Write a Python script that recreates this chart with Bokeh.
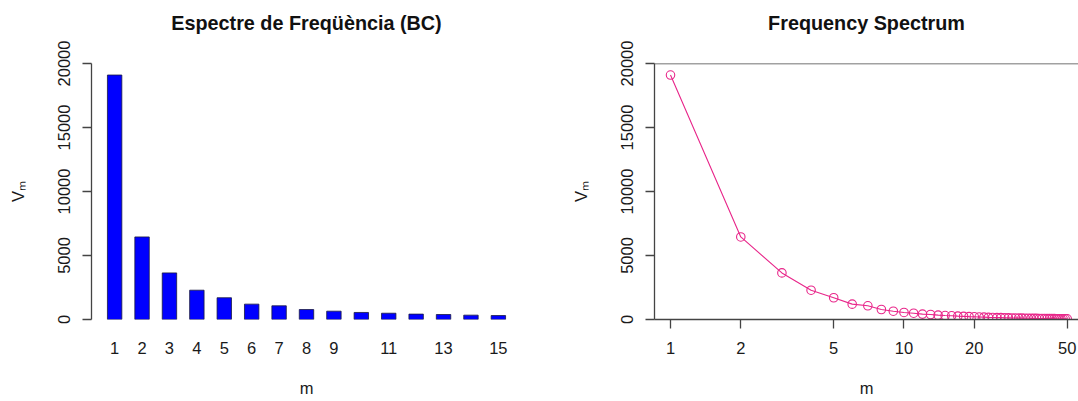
from bokeh.plotting import figure
from bokeh.layouts import row
from bokeh.models import Range1d, FixedTicker, Span, Title
from bokeh.embed import file_html
from bokeh.resources import INLINE

# ---- data ----
m_bc = list(range(1, 16))
v_bc = [19100, 6450, 3640, 2290, 1700, 1200, 1070, 780, 650, 550, 490, 420, 390, 340, 310]
bc_tick_values = [1, 2, 3, 4, 5, 6, 7, 8, 9, 11, 13, 15]
bc_tick_labels = ["1", "2", "3", "4", "5", "6", "7", "8", "9", "11", "13", "15"]

m_spec = list(range(1, 51))
v_spec = v_bc + [290, 262, 248, 226, 212, 193, 182, 168, 161, 149, 143, 134, 129, 119,
                 116, 108, 106, 99, 97, 90, 89, 84, 82, 77, 76, 72, 70, 67, 66, 62,
                 61, 58, 57, 55, 53]
spec_tick_values = [1, 2, 5, 10, 20, 50]
spec_tick_labels = ["1", "2", "5", "10", "20", "50"]
y_tick_values = [0, 5000, 10000, 15000, 20000]
Y_MAX = 20000

FONT = "Liberation Sans"
AX_COL = "#444444"
TXT_COL = "#1a1a1a"
PINK = "#E8268A"
TICK_FS = "16.5px"


def style_y(p):
    ax = p.yaxis[0]
    ax.ticker = FixedTicker(ticks=y_tick_values)
    ax.minor_tick_line_color = None
    ax.major_tick_in = 0
    ax.major_tick_out = 9
    ax.axis_line_color = AX_COL
    ax.axis_line_width = 1.3
    ax.major_tick_line_color = AX_COL
    ax.major_tick_line_width = 1.3
    ax.major_label_orientation = "vertical"
    ax.major_label_text_font = FONT
    ax.major_label_text_font_size = TICK_FS
    ax.major_label_text_color = TXT_COL
    ax.major_label_standoff = 13
    ax.axis_label = "Vₘ"
    ax.axis_label_text_font = FONT
    ax.axis_label_text_font_size = "16.5px"
    ax.axis_label_text_font_style = "normal"
    ax.axis_label_text_color = TXT_COL
    ax.axis_label_standoff = 28


def add_title(p, text):
    p.title.text = text
    p.title.text_font = FONT
    p.title.text_font_size = "19.8px"
    p.title.text_font_style = "bold"
    p.title.text_color = "#111111"
    p.title.align = "center"
    p.title.standoff = 0
    # invisible spacer between the frame and the title
    spacer = Title(text=" ", text_font_size="10px", standoff=17)
    p.add_layout(spacer, "above")


def style_x(ax, standoff, tick_out, line_col):
    ax.axis_line_color = line_col
    ax.axis_line_width = 1.3
    ax.major_tick_line_color = line_col
    ax.major_tick_line_width = 1.3
    ax.minor_tick_line_color = None
    ax.major_tick_out = tick_out
    ax.major_tick_in = 0
    ax.major_label_standoff = standoff
    ax.major_label_text_font = FONT
    ax.major_label_text_font_size = TICK_FS
    ax.major_label_text_color = TXT_COL
    ax.axis_label = "m"
    ax.axis_label_text_font = FONT
    ax.axis_label_text_font_size = "16.5px"
    ax.axis_label_text_font_style = "normal"
    ax.axis_label_text_color = TXT_COL
    ax.axis_label_standoff = 22


# ---- left: bar chart ----
p1 = figure(width=560, height=401, output_backend="svg", toolbar_location=None,
            x_range=Range1d(0.156, 15.844), y_range=Range1d(0, Y_MAX),
            min_border_left=91, min_border_right=39, min_border_top=63, min_border_bottom=82)
p1.outline_line_color = None
p1.xgrid.visible = False
p1.ygrid.visible = False
p1.vbar(x=m_bc, top=v_bc, width=0.526, bottom=0,
        fill_color="#0000FF", line_color="#1a1a40", line_width=0.8)
add_title(p1, "Espectre de Freqüència (BC)")
style_y(p1)
xa = p1.xaxis[0]
xa.ticker = FixedTicker(ticks=bc_tick_values)
xa.major_label_overrides = {v: l for v, l in zip(bc_tick_values, bc_tick_labels)}
style_x(xa, 22, 0, None)

# ---- right: log-x line chart ----
p2 = figure(width=518, height=401, output_backend="svg", toolbar_location=None,
            x_axis_type="log",
            x_range=Range1d(0.854, 55.9), y_range=Range1d(0, Y_MAX),
            min_border_left=94, min_border_right=0, min_border_top=63, min_border_bottom=82)
p2.outline_line_color = None
p2.xgrid.visible = False
p2.ygrid.visible = False
p2.line(m_spec, v_spec, line_color=PINK, line_width=1.1)
p2.scatter(m_spec, v_spec, marker="circle", size=8.5, fill_color=None,
           line_color=PINK, line_width=1.1)
p2.add_layout(Span(location=Y_MAX, dimension="width", line_color=AX_COL, line_width=1.3))
add_title(p2, "Frequency Spectrum")
style_y(p2)
xb = p2.xaxis[0]
xb.ticker = FixedTicker(ticks=spec_tick_values)
xb.major_label_overrides = {v: l for v, l in zip(spec_tick_values, spec_tick_labels)}
style_x(xb, 13, 9, AX_COL)

layout = row(p1, p2, spacing=0)
open("out.html", "w").write(file_html(layout, INLINE))
